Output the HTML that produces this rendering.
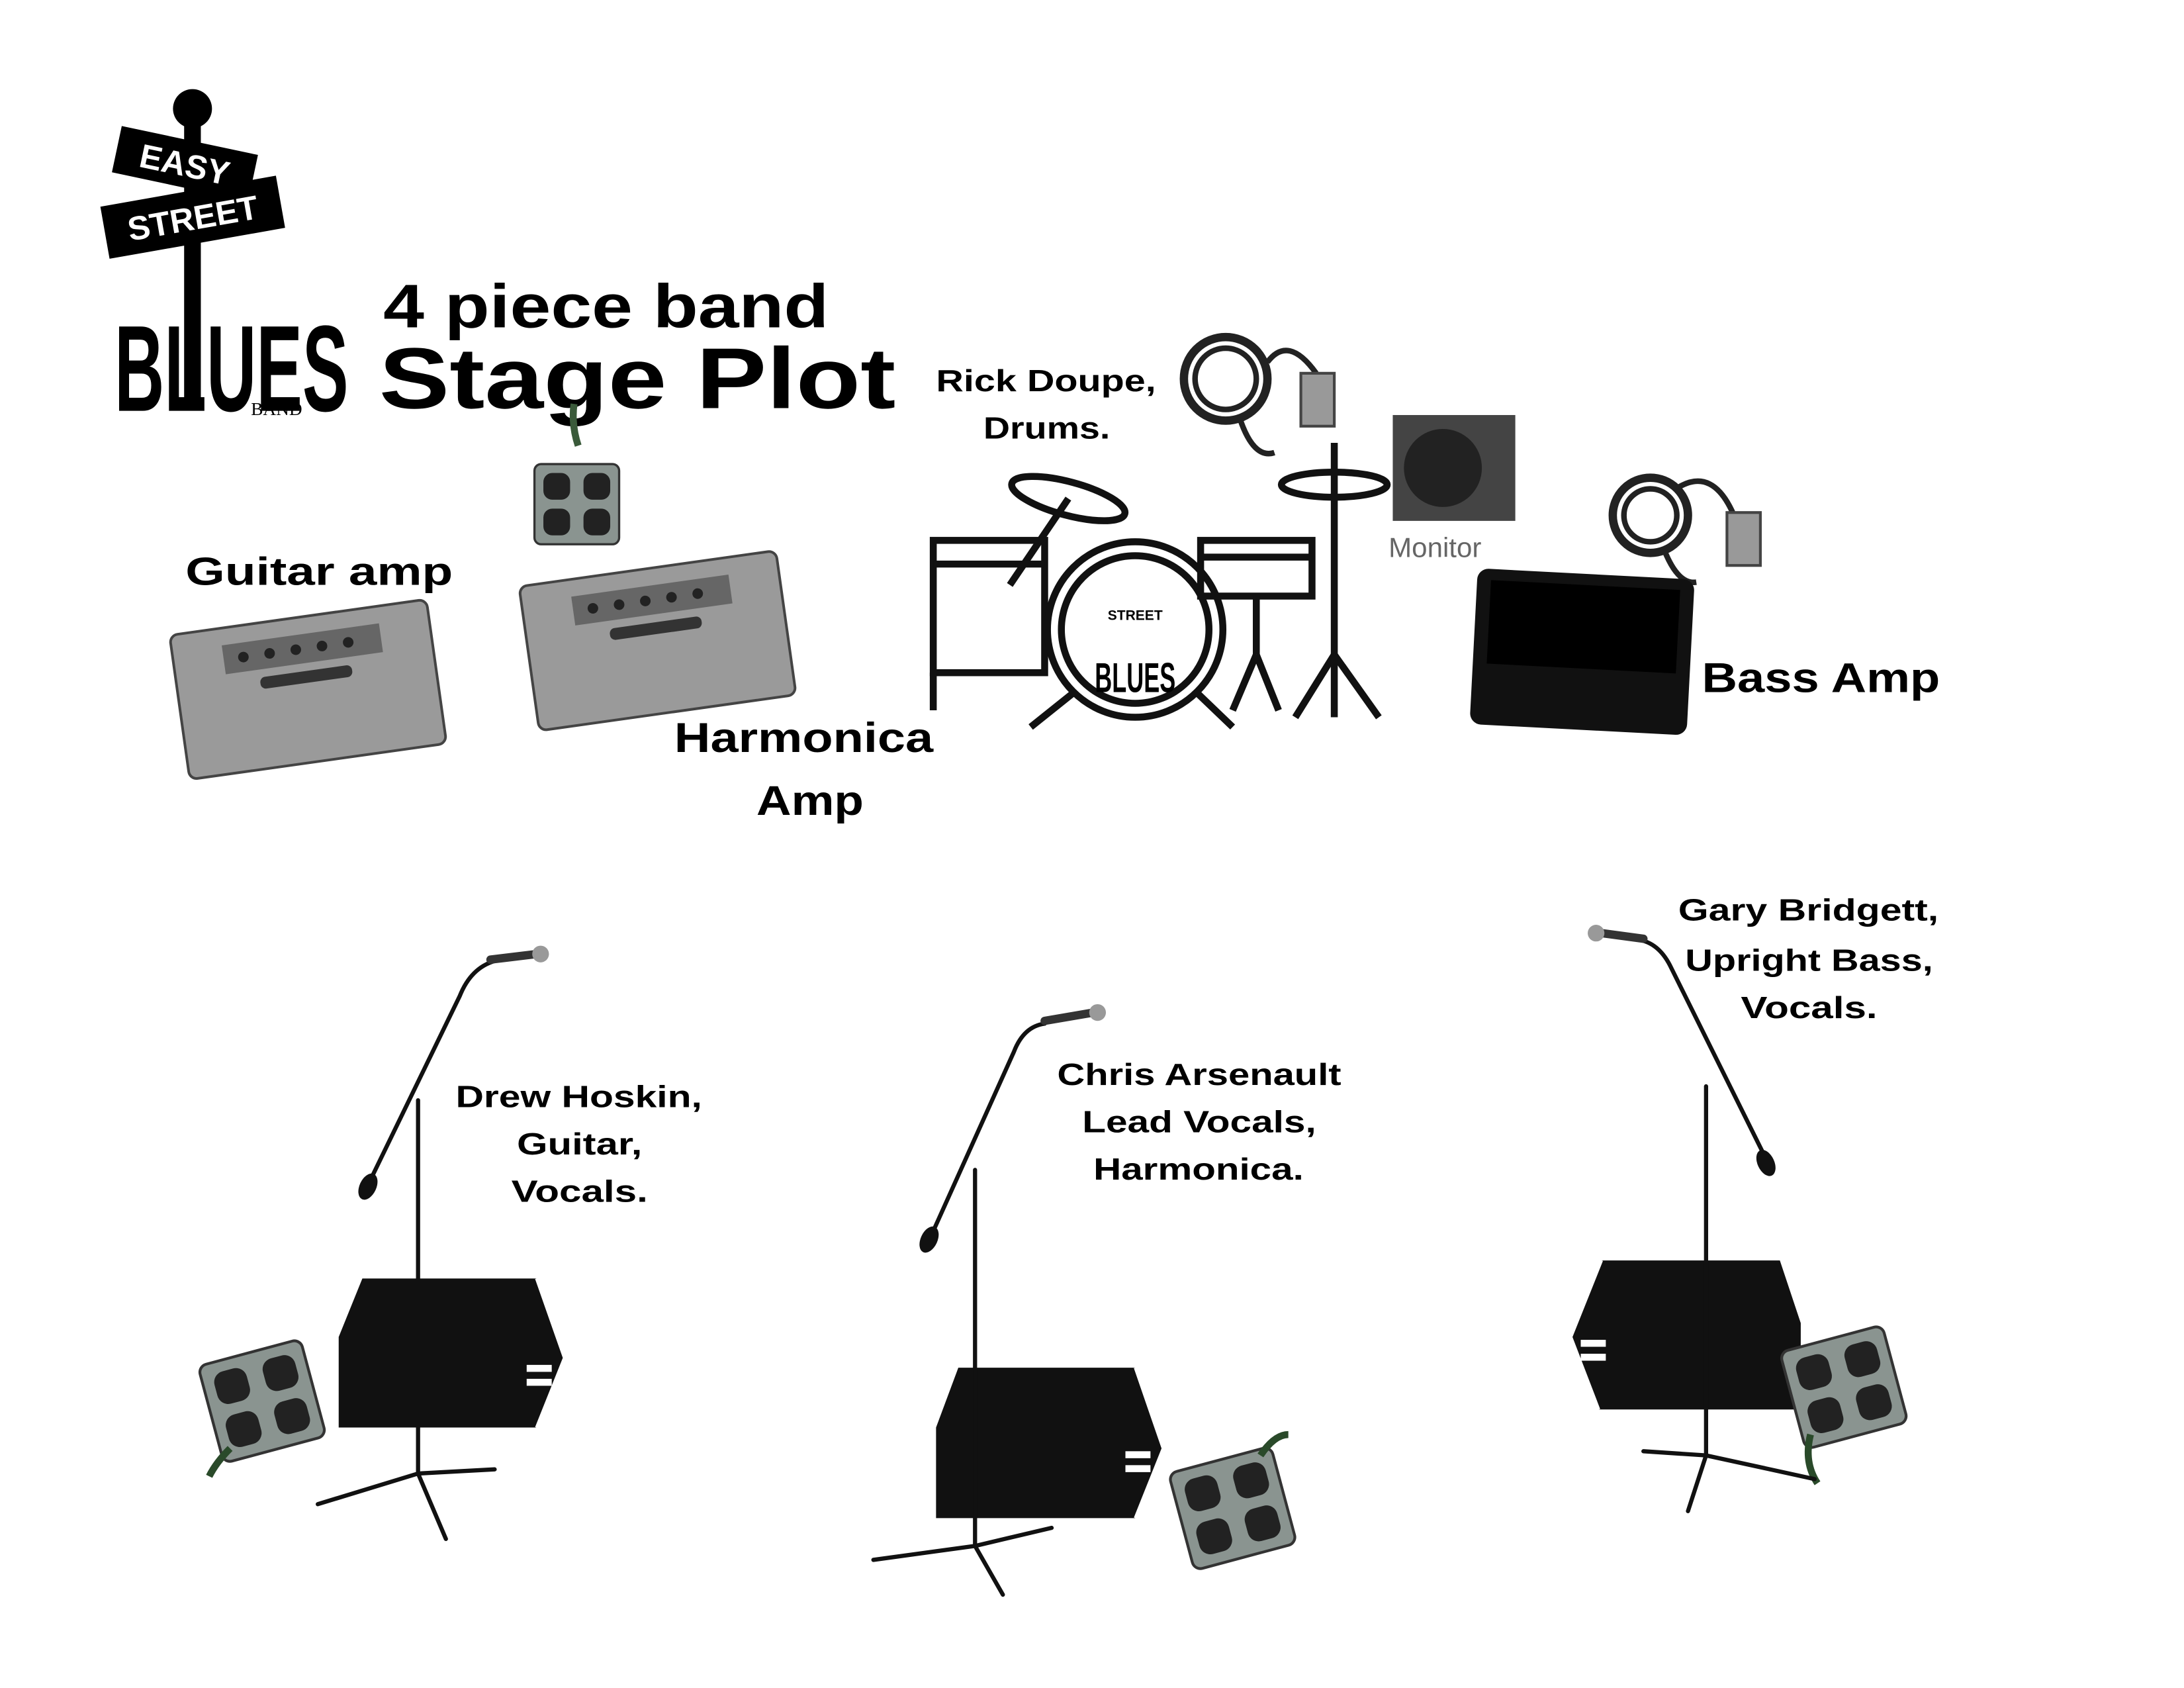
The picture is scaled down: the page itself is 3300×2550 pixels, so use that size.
<!DOCTYPE html>
<html><head><meta charset="utf-8"><style>
html,body{margin:0;padding:0;background:#fff;}
svg{display:block;}
.t{font-family:"Liberation Sans",Arial,sans-serif;font-weight:bold;fill:#000;}
</style></head><body>
<svg width="3300" height="2550" viewBox="0 0 1568 1212" xmlns="http://www.w3.org/2000/svg">
<defs>
<g id="strip">
  <rect x="-38" y="-36" width="76" height="72" rx="6" fill="#8a9490" stroke="#333" stroke-width="2"/>
  <g fill="#222">
    <rect x="-30" y="-28" width="24" height="24" rx="8"/><rect x="6" y="-28" width="24" height="24" rx="8"/>
    <rect x="-30" y="4" width="24" height="24" rx="8"/><rect x="6" y="4" width="24" height="24" rx="8"/>
  </g>
</g>
<g id="amp">
  <rect x="-98" y="-55" width="196" height="110" rx="6" fill="#9a9a9a" stroke="#444" stroke-width="2"/>
  <rect x="-60" y="-42" width="120" height="22" fill="#666"/>
  <g fill="#222"><circle cx="-45" cy="-31" r="4"/><circle cx="-25" cy="-31" r="4"/><circle cx="-5" cy="-31" r="4"/><circle cx="15" cy="-31" r="4"/><circle cx="35" cy="-31" r="4"/></g>
  <rect x="-35" y="-14" width="70" height="9" rx="4" fill="#333"/>
</g>
</defs>

<!-- Logo -->
<g>
  <circle cx="138" cy="78" r="14" fill="#000"/>
  <rect x="132" y="88" width="12" height="200" fill="#000"/>
  <g transform="rotate(12 130 120)"><rect x="82" y="100" width="100" height="34" fill="#000"/><text x="132" y="126" class="t" font-size="24" text-anchor="middle" style="fill:#fff">EASY</text></g>
  <g transform="rotate(-10 138 155)"><rect x="74" y="137" width="128" height="38" fill="#000"/><text x="138" y="165" class="t" font-size="24" text-anchor="middle" style="fill:#fff">STREET</text></g>
  <text x="82" y="295" class="t" font-size="88" textLength="168" lengthAdjust="spacingAndGlyphs" style="font-family:'Liberation Sans Narrow','Liberation Sans',sans-serif">BLUES</text>
  <text x="180" y="298" font-family="Liberation Serif,serif" font-size="13">BAND</text>
</g>
<text x="275" y="235" class="t" font-size="44" textLength="320" lengthAdjust="spacingAndGlyphs">4 piece band</text>
<text x="272" y="293" class="t" font-size="62" textLength="371" lengthAdjust="spacingAndGlyphs">Stage Plot</text>

<!-- Amps -->
<g transform="translate(221,495) rotate(-8) scale(0.95)"><use href="#amp"/></g>
<g transform="translate(472,460) rotate(-8) scale(0.95)"><use href="#amp"/></g>
<text x="133" y="420" class="t" font-size="28" textLength="192" lengthAdjust="spacingAndGlyphs">Guitar amp</text>
<text x="484" y="540" class="t" font-size="30" textLength="186" lengthAdjust="spacingAndGlyphs">Harmonica</text>
<text x="543" y="585" class="t" font-size="30" textLength="77" lengthAdjust="spacingAndGlyphs">Amp</text>
<path d="M415 320 Q410 305 412 290" stroke="#3a5a3a" stroke-width="5" fill="none"/>
<g transform="translate(414,362) scale(0.8)"><use href="#strip"/></g>

<!-- Drums -->
<text x="672" y="281" class="t" font-size="22" textLength="158" lengthAdjust="spacingAndGlyphs">Rick Doupe,</text>
<text x="706" y="315" class="t" font-size="22" textLength="91" lengthAdjust="spacingAndGlyphs">Drums.</text>
<g stroke="#111" stroke-width="5" fill="none">
  <ellipse cx="767" cy="358" rx="42" ry="12" transform="rotate(15 767 358)"/>
  <line x1="767" y1="358" x2="725" y2="420"/>
  <rect x="670" y="388" width="80" height="95"/>
  <line x1="670" y1="405" x2="750" y2="405"/>
  <line x1="670" y1="483" x2="670" y2="510"/>
  <circle cx="815" cy="452" r="63"/><circle cx="815" cy="452" r="53"/>
  <line x1="770" y1="498" x2="740" y2="522"/><line x1="860" y1="498" x2="885" y2="522"/>
  <rect x="862" y="388" width="80" height="40"/>
  <line x1="862" y1="400" x2="942" y2="400"/>
  <line x1="902" y1="428" x2="902" y2="470"/><line x1="902" y1="470" x2="885" y2="510"/><line x1="902" y1="470" x2="918" y2="510"/>
  <ellipse cx="958" cy="348" rx="38" ry="9"/>
  <line x1="958" y1="318" x2="958" y2="470"/>
  <line x1="958" y1="470" x2="930" y2="515"/><line x1="958" y1="470" x2="990" y2="515"/><line x1="958" y1="470" x2="958" y2="515"/>
</g>
<text x="786" y="497" class="t" font-size="30" textLength="58" lengthAdjust="spacingAndGlyphs">BLUES</text>
<text x="815" y="445" class="t" font-size="10" text-anchor="middle">STREET</text>

<!-- cables/outlets -->
<circle cx="880" cy="272" r="30" fill="none" stroke="#222" stroke-width="6"/>
<circle cx="880" cy="272" r="22" fill="none" stroke="#222" stroke-width="4"/>
<path d="M910 260 Q925 240 945 268 M890 300 Q900 330 915 325" stroke="#222" stroke-width="4" fill="none"/>
<rect x="934" y="268" width="24" height="38" fill="#999" stroke="#444" stroke-width="2"/>
<circle cx="1185" cy="370" r="27" fill="none" stroke="#222" stroke-width="6"/>
<circle cx="1185" cy="370" r="19" fill="none" stroke="#222" stroke-width="4"/>
<path d="M1205 350 Q1230 335 1245 370 M1195 395 Q1205 420 1218 418" stroke="#222" stroke-width="4" fill="none"/>
<rect x="1240" y="368" width="24" height="38" fill="#999" stroke="#444" stroke-width="2"/>

<!-- Monitor -->
<rect x="1000" y="298" width="88" height="76" fill="#444"/>
<circle cx="1036" cy="336" r="28" fill="#222"/>
<text x="997" y="400" font-family="Liberation Sans,sans-serif" font-size="20" fill="#666">Monitor</text>

<!-- Bass amp -->
<g transform="rotate(3 1136 468)"><rect x="1058" y="412" width="156" height="112" rx="8" fill="#111"/><rect x="1068" y="420" width="136" height="60" fill="#000"/></g>
<text x="1222" y="497" class="t" font-size="30" textLength="171" lengthAdjust="spacingAndGlyphs">Bass Amp</text>

<!-- Wedges -->
<g>
  <path d="M260 918 L385 918 L405 975 L385 1025 L243 1025 L243 960 Z" fill="#111"/>
  <path d="M385 918 L405 975 L385 1025" fill="none" stroke="#fff" stroke-width="2"/>
  <rect x="378" y="980" width="18" height="5" fill="#fff"/><rect x="378" y="990" width="18" height="5" fill="#fff"/>
  <path d="M688 982 L815 982 L835 1040 L815 1090 L672 1090 L672 1025 Z" fill="#111"/>
  <path d="M815 982 L835 1040 L815 1090" fill="none" stroke="#fff" stroke-width="2"/>
  <rect x="808" y="1042" width="18" height="5" fill="#fff"/><rect x="808" y="1052" width="18" height="5" fill="#fff"/>
  <path d="M1150 905 L1278 905 L1293 950 L1293 1012 L1148 1012 L1128 960 Z" fill="#111"/>
  <path d="M1150 905 L1128 960 L1148 1012" fill="none" stroke="#fff" stroke-width="2"/>
  <rect x="1135" y="962" width="18" height="5" fill="#fff"/><rect x="1135" y="972" width="18" height="5" fill="#fff"/>
</g>

<!-- Strips -->
<g transform="translate(188,1006) rotate(-15)"><use href="#strip"/></g>
<path d="M165 1040 Q155 1050 150 1060" stroke="#2a4a2a" stroke-width="5" fill="none"/>
<g transform="translate(885,1083) rotate(-15)"><use href="#strip"/></g>
<path d="M905 1045 Q915 1030 925 1030" stroke="#2a4a2a" stroke-width="5" fill="none"/>
<g transform="translate(1324,996) rotate(-15)"><use href="#strip"/></g>
<path d="M1300 1030 Q1295 1050 1305 1065" stroke="#2a4a2a" stroke-width="5" fill="none"/>

<!-- Mic stands -->
<g stroke="#111" stroke-width="3" fill="none" stroke-linecap="round">
  <line x1="300" y1="790" x2="300" y2="1058"/>
  <line x1="300" y1="1058" x2="228" y2="1080"/><line x1="300" y1="1058" x2="320" y2="1105"/><line x1="300" y1="1058" x2="355" y2="1055"/>
  <path d="M262 855 L330 715 Q338 695 355 690"/>
  <line x1="700" y1="840" x2="700" y2="1110"/>
  <line x1="700" y1="1110" x2="627" y2="1120"/><line x1="700" y1="1110" x2="720" y2="1145"/><line x1="700" y1="1110" x2="755" y2="1097"/>
  <path d="M665 895 L728 755 Q735 737 750 735"/>
  <line x1="1225" y1="780" x2="1225" y2="1045"/>
  <line x1="1225" y1="1045" x2="1180" y2="1042"/><line x1="1225" y1="1045" x2="1212" y2="1085"/><line x1="1225" y1="1045" x2="1303" y2="1062"/>
  <path d="M1272 840 L1200 695 Q1192 678 1178 675"/>
</g>
<g fill="#111">
  <ellipse cx="264" cy="852" rx="6" ry="10" transform="rotate(25 264 852)"/>
  <ellipse cx="667" cy="890" rx="6" ry="10" transform="rotate(25 667 890)"/>
  <ellipse cx="1268" cy="835" rx="6" ry="10" transform="rotate(-25 1268 835)"/>
</g>
<g>
  <line x1="352" y1="689" x2="385" y2="685" stroke="#333" stroke-width="6" stroke-linecap="round"/><circle cx="388" cy="685" r="6" fill="#999"/>
  <line x1="750" y1="733" x2="785" y2="727" stroke="#333" stroke-width="6" stroke-linecap="round"/><circle cx="788" cy="727" r="6" fill="#999"/>
  <line x1="1180" y1="674" x2="1150" y2="670" stroke="#333" stroke-width="6" stroke-linecap="round"/><circle cx="1146" cy="670" r="6" fill="#999"/>
</g>

<!-- Names -->
<g class="t" font-size="22" lengthAdjust="spacingAndGlyphs">
  <text x="327" y="795" textLength="177" lengthAdjust="spacingAndGlyphs">Drew Hoskin,</text>
  <text x="371" y="829" textLength="90" lengthAdjust="spacingAndGlyphs">Guitar,</text>
  <text x="367" y="863" textLength="98" lengthAdjust="spacingAndGlyphs">Vocals.</text>
  <text x="759" y="779" textLength="204" lengthAdjust="spacingAndGlyphs">Chris Arsenault</text>
  <text x="777" y="813" textLength="168" lengthAdjust="spacingAndGlyphs">Lead Vocals,</text>
  <text x="785" y="847" textLength="151" lengthAdjust="spacingAndGlyphs">Harmonica.</text>
  <text x="1205" y="661" textLength="187" lengthAdjust="spacingAndGlyphs">Gary Bridgett,</text>
  <text x="1210" y="697" textLength="178" lengthAdjust="spacingAndGlyphs">Upright Bass,</text>
  <text x="1250" y="731" textLength="98" lengthAdjust="spacingAndGlyphs">Vocals.</text>
</g>
</svg>
</body></html>
